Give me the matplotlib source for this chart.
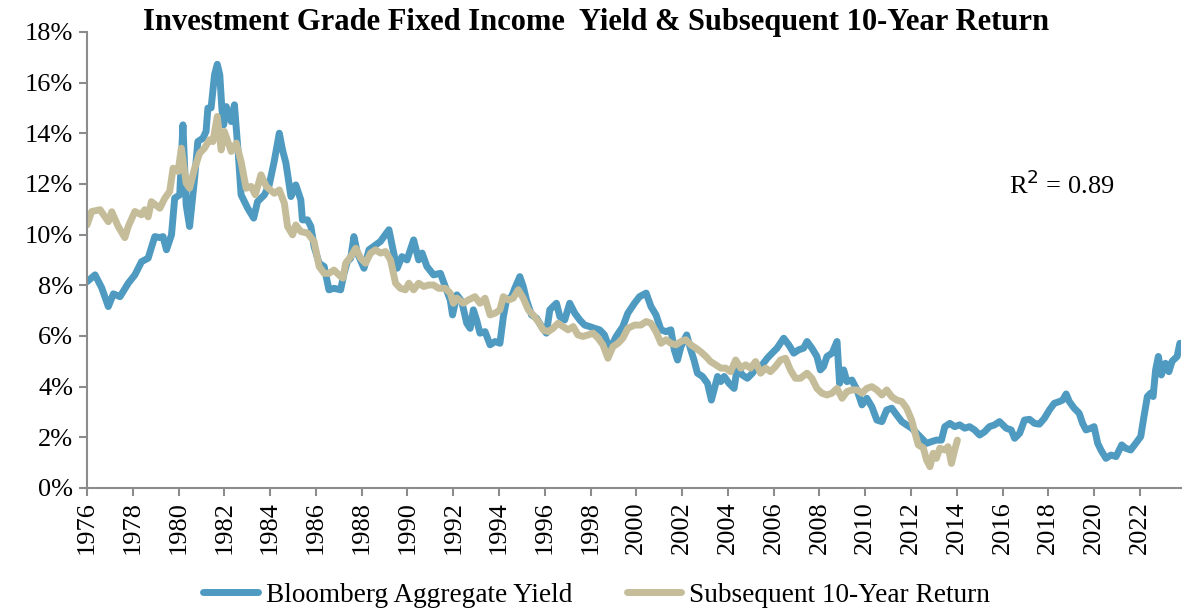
import matplotlib
matplotlib.use("Agg")
import matplotlib.pyplot as plt
from matplotlib.ticker import FuncFormatter, MultipleLocator

# Bloomberg Aggregate yield (decimal year, %)
agg_years = [
    1976.00, 1976.35, 1976.64, 1976.93, 1977.15, 1977.44, 1977.80, 1978.09, 1978.38, 1978.67,
    1978.96, 1979.18, 1979.32, 1979.47, 1979.69, 1979.83, 1980.05, 1980.19, 1980.33, 1980.48,
    1980.70, 1980.84, 1981.06, 1981.20, 1981.28, 1981.42, 1981.57, 1981.69, 1981.80, 1981.89,
    1981.97, 1982.08, 1982.30, 1982.44, 1982.61, 1982.73, 1983.02, 1983.28, 1983.45, 1983.75,
    1983.96, 1984.18, 1984.40, 1984.54, 1984.69, 1984.91, 1985.12, 1985.34, 1985.41, 1985.63,
    1985.78, 1985.92, 1986.14, 1986.36, 1986.57, 1986.79, 1987.08, 1987.23, 1987.37, 1987.52,
    1987.66, 1987.81, 1988.10, 1988.32, 1988.61, 1988.82, 1988.97, 1989.19, 1989.40, 1989.55,
    1989.76, 1989.98, 1990.27, 1990.49, 1990.64, 1990.85, 1991.14, 1991.44, 1991.65, 1991.87,
    1991.97, 1992.16, 1992.37, 1992.59, 1992.74, 1992.88, 1993.03, 1993.17, 1993.39, 1993.61,
    1993.83, 1994.04, 1994.19, 1994.33, 1994.55, 1994.69, 1994.91, 1995.06, 1995.20, 1995.42,
    1995.64, 1995.86, 1996.07, 1996.22, 1996.36, 1996.51, 1996.66, 1996.87, 1997.09, 1997.31,
    1997.53, 1997.74, 1997.96, 1998.18, 1998.40, 1998.61, 1998.76, 1998.90, 1999.12, 1999.41,
    1999.63, 1999.92, 2000.14, 2000.43, 2000.64, 2000.86, 2001.08, 2001.30, 2001.51, 2001.66,
    2001.80, 2001.95, 2002.20, 2002.38, 2002.52, 2002.67, 2002.89, 2003.11, 2003.28, 2003.47,
    2003.55, 2003.69, 2003.84, 2004.05, 2004.27, 2004.42, 2004.63, 2004.85, 2005.07, 2005.28,
    2005.50, 2005.72, 2005.93, 2006.15, 2006.44, 2006.66, 2006.88, 2007.09, 2007.31, 2007.46,
    2007.67, 2007.89, 2008.04, 2008.18, 2008.33, 2008.55, 2008.77, 2008.88, 2009.06, 2009.20,
    2009.42, 2009.64, 2009.86, 2010.07, 2010.29, 2010.51, 2010.73, 2010.94, 2011.16, 2011.38,
    2011.60, 2011.81, 2012.03, 2012.25, 2012.46, 2012.68, 2012.90, 2013.11, 2013.33, 2013.48,
    2013.70, 2013.91, 2014.13, 2014.35, 2014.56, 2014.78, 2015.00, 2015.22, 2015.43, 2015.65,
    2015.87, 2016.16, 2016.38, 2016.53, 2016.75, 2016.96, 2017.18, 2017.40, 2017.61, 2017.83,
    2018.05, 2018.26, 2018.48, 2018.63, 2018.78, 2018.92, 2019.13, 2019.35, 2019.50, 2019.65,
    2019.86, 2020.00, 2020.16, 2020.30, 2020.52, 2020.74, 2020.96, 2021.21, 2021.38, 2021.60,
    2021.82, 2022.04, 2022.18, 2022.33, 2022.47, 2022.58, 2022.69, 2022.81, 2022.94, 2023.12,
    2023.27, 2023.41, 2023.63, 2023.75,
]
agg_yield = [
    8.14, 8.41, 7.90, 7.16, 7.66, 7.55, 8.08, 8.41, 8.93, 9.07,
    9.92, 9.88, 9.92, 9.40, 9.99, 11.44, 11.57, 14.33, 11.17, 10.32,
    12.23, 13.67, 13.80, 14.07, 14.99, 15.00, 16.30, 16.72, 16.30, 14.99,
    14.33, 15.05, 14.46, 15.12, 13.15, 11.57, 11.04, 10.65, 11.30, 11.57,
    11.96, 12.90, 14.00, 13.34, 12.82, 11.50, 11.96, 11.37, 10.58, 10.58,
    10.32, 9.53, 8.87, 8.74, 7.82, 7.88, 7.82, 8.47, 8.93, 9.07,
    9.92, 9.27, 8.67, 9.40, 9.59, 9.73, 9.92, 10.19, 9.27, 8.67,
    9.13, 9.00, 9.79, 9.00, 9.27, 8.74, 8.41, 8.47, 7.95, 7.42,
    6.83, 7.62, 7.36, 6.50, 6.30, 7.03, 6.60, 6.11, 6.17, 5.65,
    5.78, 5.71, 6.76, 7.42, 7.55, 7.88, 8.34, 7.95, 7.42, 6.83,
    6.70, 6.37, 6.11, 7.03, 7.16, 7.29, 6.76, 6.63, 7.29, 6.90,
    6.63, 6.43, 6.37, 6.30, 6.24, 6.04, 5.65, 5.58, 5.98, 6.37,
    6.90, 7.29, 7.55, 7.69, 7.16, 6.83, 6.24, 6.17, 6.24, 5.45,
    5.05, 5.58, 6.04, 5.45, 5.05, 4.53, 4.40, 4.13, 3.47, 4.13,
    4.40, 4.20, 4.40, 4.13, 3.93, 4.79, 4.46, 4.33, 4.53, 4.79,
    4.86, 5.12, 5.32, 5.52, 5.91, 5.65, 5.32, 5.45, 5.52, 5.78,
    5.52, 5.19, 4.66, 4.79, 5.19, 5.32, 5.78, 4.13, 4.66, 4.20,
    4.26, 3.87, 3.28, 3.54, 3.21, 2.68, 2.62, 3.08, 3.15, 2.88,
    2.62, 2.49, 2.36, 2.16, 1.97, 1.76, 1.83, 1.89, 1.89, 2.42,
    2.55, 2.42, 2.49, 2.36, 2.42, 2.29, 2.09, 2.22, 2.42, 2.49,
    2.62, 2.36, 2.29, 1.96, 2.16, 2.68, 2.71, 2.55, 2.52, 2.75,
    3.08, 3.34, 3.41, 3.47, 3.71, 3.41, 3.15, 2.95, 2.55, 2.29,
    2.36, 2.42, 1.76, 1.50, 1.17, 1.30, 1.24, 1.70, 1.57, 1.50,
    1.76, 2.03, 2.82, 3.61, 3.74, 3.61, 4.66, 5.19, 4.46, 4.92,
    4.59, 5.00, 5.19, 5.71,
]

# Subsequent 10-year annualised return (decimal year, %)
ret_years = [
    1976.00, 1976.20, 1976.57, 1976.93, 1977.08, 1977.36, 1977.65, 1977.80, 1978.09, 1978.38,
    1978.52, 1978.67, 1978.81, 1979.18, 1979.40, 1979.61, 1979.76, 1979.98, 1980.12, 1980.33,
    1980.48, 1980.70, 1980.92, 1981.13, 1981.35, 1981.50, 1981.69, 1981.86, 1982.00, 1982.30,
    1982.52, 1982.73, 1982.95, 1983.17, 1983.35, 1983.60, 1983.83, 1984.18, 1984.40, 1984.62,
    1984.76, 1984.98, 1985.12, 1985.34, 1985.63, 1985.92, 1986.14, 1986.36, 1986.57, 1986.79,
    1987.00, 1987.18, 1987.30, 1987.52, 1987.74, 1987.95, 1988.17, 1988.39, 1988.61, 1988.82,
    1989.04, 1989.26, 1989.48, 1989.69, 1989.91, 1990.06, 1990.27, 1990.49, 1990.71, 1990.93,
    1991.14, 1991.36, 1991.65, 1991.87, 1992.01, 1992.16, 1992.44, 1992.66, 1992.95, 1993.17,
    1993.39, 1993.61, 1993.83, 1994.04, 1994.19, 1994.41, 1994.62, 1994.84, 1995.06, 1995.28,
    1995.49, 1995.71, 1995.93, 1996.15, 1996.36, 1996.58, 1996.80, 1997.02, 1997.24, 1997.45,
    1997.67, 1997.89, 1998.11, 1998.33, 1998.54, 1998.76, 1998.98, 1999.20, 1999.41, 1999.63,
    1999.92, 2000.20, 2000.43, 2000.64, 2000.86, 2001.08, 2001.30, 2001.51, 2001.73, 2001.95,
    2002.16, 2002.38, 2002.60, 2002.81, 2003.04, 2003.24, 2003.47, 2003.69, 2003.90, 2004.12,
    2004.34, 2004.56, 2004.78, 2004.99, 2005.21, 2005.43, 2005.65, 2005.86, 2006.08, 2006.30,
    2006.52, 2006.73, 2006.95, 2007.17, 2007.46, 2007.67, 2007.89, 2008.11, 2008.33, 2008.55,
    2008.77, 2008.99, 2009.20, 2009.42, 2009.64, 2009.86, 2010.07, 2010.29, 2010.51, 2010.73,
    2010.94, 2011.16, 2011.38, 2011.60, 2011.81, 2012.03, 2012.18, 2012.32, 2012.54, 2012.68,
    2012.83, 2012.97, 2013.11, 2013.26, 2013.48, 2013.62, 2013.77, 2013.91, 2014.03,
]
ret_10y = [
    10.38, 10.91, 10.98, 10.51, 10.90, 10.32, 9.88, 10.32, 10.91, 10.78,
    10.98, 10.70, 11.30, 11.04, 11.44, 11.70, 12.62, 12.49, 13.41, 12.03,
    11.83, 12.62, 13.21, 13.41, 13.74, 13.67, 14.66, 13.34, 14.07, 13.28,
    13.61, 12.88, 11.83, 11.90, 11.57, 12.36, 11.90, 11.63, 11.76, 11.24,
    10.32, 9.99, 10.38, 10.12, 10.06, 9.73, 8.74, 8.47, 8.47, 8.60,
    8.41, 8.28, 8.87, 9.13, 9.46, 9.07, 8.87, 9.27, 9.40, 9.27,
    9.33, 9.00, 8.08, 7.88, 7.82, 8.08, 7.82, 8.08, 7.95, 8.01,
    8.01, 7.88, 7.88, 7.69, 7.29, 7.49, 7.29, 7.42, 7.55, 7.29,
    7.49, 6.83, 6.90, 7.03, 7.55, 7.42, 7.49, 7.82, 7.49, 7.03,
    6.83, 6.57, 6.24, 6.17, 6.30, 6.50, 6.37, 6.24, 6.37, 6.04,
    5.98, 6.04, 6.11, 5.91, 5.65, 5.12, 5.58, 5.71, 5.91, 6.30,
    6.43, 6.43, 6.57, 6.50, 6.17, 5.71, 5.85, 5.71, 5.65, 5.78,
    5.85, 5.65, 5.52, 5.38, 5.19, 4.99, 4.86, 4.73, 4.73, 4.59,
    5.05, 4.73, 4.86, 4.73, 4.99, 4.53, 4.73, 4.59, 4.79, 5.05,
    5.12, 4.66, 4.33, 4.33, 4.53, 4.33, 3.93, 3.74, 3.67, 3.74,
    3.93, 3.54, 3.80, 3.87, 3.87, 3.74, 3.93, 4.00, 3.87, 3.67,
    3.87, 3.60, 3.47, 3.41, 3.15, 2.68, 2.16, 1.70, 1.58, 1.11,
    0.84, 1.37, 1.17, 1.57, 1.50, 1.63, 0.97, 1.50, 1.89,
]

tick_years = list(range(1976, 2023, 2))

blue = "#4f9ac0"
tan = "#c5bd99"
grey = "#8c8c8c"
serif = ["Liberation Serif", "DejaVu Serif"]

plt.rcParams["font.family"] = serif

fig = plt.figure(figsize=(11.86, 6.09), dpi=100)
ax = fig.add_axes([0.0734, 0.1987, 0.9224, 0.749])

ax.plot(agg_years, agg_yield, color=blue, lw=5, solid_joinstyle="round",
        solid_capstyle="round", label="Bloomberg Aggregate Yield")
ax.plot(ret_years, ret_10y, color=tan, lw=5, solid_joinstyle="round",
        solid_capstyle="round", label="Subsequent 10-Year Return")

ax.set_xlim(1976, 2023.8)
ax.set_ylim(0, 18)
ax.yaxis.set_major_locator(MultipleLocator(2))
ax.yaxis.set_major_formatter(FuncFormatter(lambda v, p: f"{v:.0f}%"))
ax.set_xticks(tick_years)
ax.set_xticklabels([str(y) for y in tick_years], rotation=90)

for s in ["top", "right"]:
    ax.spines[s].set_visible(False)
for s in ["left", "bottom"]:
    ax.spines[s].set_color(grey)
    ax.spines[s].set_linewidth(1.5)
ax.tick_params(axis="both", colors=grey, labelcolor="black", length=6, width=1.5,
               labelsize=19)
ax.tick_params(axis="y", pad=4)

ax.text(0.843, 0.664, "R$^2$ = 0.89", transform=ax.transAxes, fontsize=19,
        ha="left", va="center")

fig.text(0.503, 0.963, "Investment Grade Fixed Income  Yield & Subsequent 10-Year Return",
         ha="center", va="center", fontsize=22, fontweight="bold")

fig.legend(loc="center", bbox_to_anchor=(0.503, 0.023), ncol=2, frameon=False,
           fontsize=19.6, handlelength=2.0, columnspacing=2.0, handletextpad=0.3)

fig.savefig("out.png", dpi=100)
